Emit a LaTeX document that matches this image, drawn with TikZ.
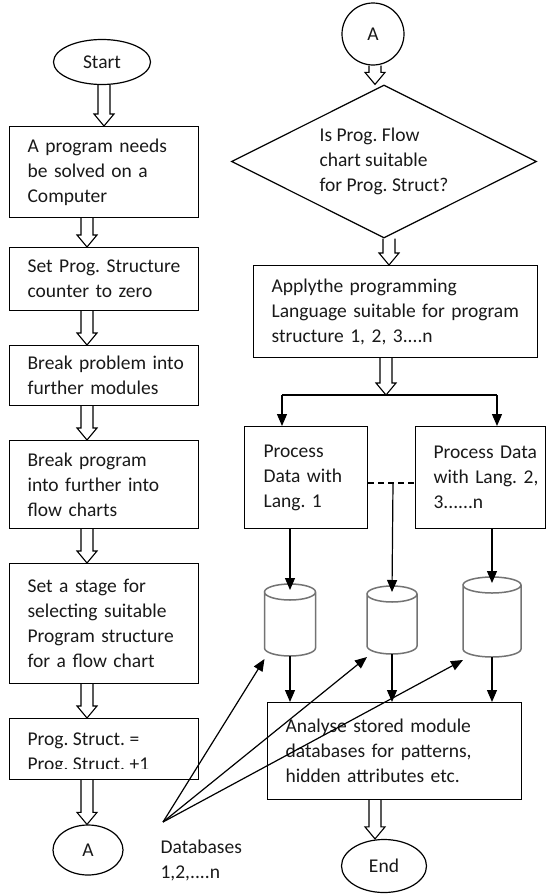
\documentclass[tikz,border=0pt]{standalone}
\usepackage{fontspec}
\setmainfont{Carlito}
\usetikzlibrary{shapes.geometric,arrows.meta,calc}
\frenchspacing
\newcommand{\harrow}[3]{\path[harr] let \p1=(#2), \p2=(#3), \p3=(#1,0) in (\x3-6pt,\y1) -- (\x3-6pt,\y2+12pt) -- (\x3-10pt,\y2+12pt) -- (\x3,\y2) -- (\x3+10pt,\y2+12pt) -- (\x3+6pt,\y2+12pt) -- (\x3+6pt,\y1);}
\newcommand{\drawcan}[1]{\path[candraw] let \p1=(#1.north west), \p2=(#1.south east), \n1={(\x2-\x1)/2} in (\x1,\y1-8pt) -- (\x1,\y2+8pt) arc[start angle=180, end angle=360, x radius=\n1, y radius=8pt] -- (\x2,\y1-8pt) arc[start angle=0, end angle=360, x radius=\n1, y radius=8pt];}
\begin{document}
\begin{tikzpicture}[x=1pt,y=-1pt,line width=1.2pt,
  every node/.style={font=\fontsize{19.5}{25}\selectfont\frenchspacing, text=black!90},
  procbox/.style={draw, text width=#1, align=left, inner xsep=18pt, inner ysep=0pt, anchor=north west},
  oval/.style={ellipse, draw, inner sep=0pt},
  can/.style={inner sep=0pt, outer sep=0pt},
  candraw/.style={draw=black!55, fill=white, line width=1.5pt},
  tip/.style={-{Triangle[length=12pt,width=10pt]}},
  harr/.style={draw, line width=1.1pt, line join=miter}
]
\useasboundingbox (0,0) rectangle (550,894);
% left column
\node[oval, minimum width=97, minimum height=45] (start) at (102,62) {Start};
\node[procbox=153pt, minimum height=91] (b1) at (9,126) {\mbox{A program needs}\\\mbox{be solved on a}\\Computer};
\node[procbox=153pt, minimum height=63] (b2) at (9,247) {\mbox{Set Prog. Structure}\\\mbox{counter to zero}};
\node[procbox=153pt, minimum height=60] (b3) at (9,345) {\mbox{Break problem into}\\\mbox{further modules}};
\node[procbox=153pt, minimum height=88] (b4) at (9,440) {\mbox{Break program}\\\mbox{into further into}\\\mbox{flow charts}};
\node[procbox=153pt, minimum height=120] (b5) at (9,563) {\mbox{Set a stage for}\\\mbox{selecting suitable}\\\mbox{Program structure}\\\mbox{for a flow chart}};
\node[procbox=153pt, minimum height=61] (b6) at (9,718) {};
\begin{scope}
\clip (b6.north west) rectangle ([yshift=12pt]b6.south east);
\node[anchor=north west, align=left, inner sep=0pt] (b6t) at (27,732) {Prog. Struct. =\\Prog. Struct. +1};
\end{scope}
\node[oval, minimum width=70, minimum height=50] (a1) at (88,850) {A};
\node[anchor=west, align=left, inner sep=0pt] (dbl) at (160,860) {Databases\\1,2,....n};
\coordinate (db) at (163,822);
% right column
\node[circle, draw, minimum size=62, inner sep=0pt] (a2) at (373,34) {A};
\node[diamond, draw, aspect=2, minimum width=305, minimum height=153, inner sep=0pt, align=left] (dec) at (384,161.5) {Is Prog. Flow\\chart suitable\\for Prog. Struct?};
\node[procbox=248pt, minimum height=92] (ap) at (253,265) {\mbox{Applythe programming}\\\mbox{Language suitable for program}\\\mbox{structure 1, 2, 3....n}};
\coordinate (jM) at (386,395);
\coordinate (jL) at (282,395);
\coordinate (jR) at (497,395);
\node[procbox=85pt, inner xsep=19pt, minimum height=102] (pL) at (244,426) {\mbox{Process}\\\mbox{Data with}\\\mbox{Lang. 1}};
\node[procbox=94pt, minimum height=102] (pR) at (415,426) {\mbox{Process Data}\\\mbox{with Lang. 2,}\\3......n};
\coordinate (dm) at (393,483);
\node[can, minimum width=51, minimum height=72] (c1) at (290,620) {};
\node[can, minimum width=50, minimum height=68] (c2) at (392,620) {};
\node[can, minimum width=58, minimum height=80] (c3) at (492,617) {};
\drawcan{c1}
\drawcan{c2}
\drawcan{c3}
\node[procbox=218pt, minimum height=97] (an) at (267,702) {\mbox{Analyse stored module}\\\mbox{databases for patterns,}\\\mbox{hidden attributes etc.}};
\node[oval, minimum width=85, minimum height=53] (end) at (384,866) {End};
% connectors
\harrow{104}{start.south}{b1.north}
\harrow{87}{b1.south}{b2.north}
\harrow{87}{b2.south}{b3.north}
\harrow{87}{b3.south}{b4.north}
\harrow{87}{b4.south}{b5.north}
\harrow{87}{b5.south}{b6.north}
\harrow{87}{b6.south}{a1.north}
\harrow{375}{a2.south}{dec.north}
\harrow{389}{dec.south}{ap.north}
\harrow{386}{ap.south}{jM}
\draw (jL) -- (jR);
\draw[tip] (jL) -- (jL |- pL.north);
\draw[tip] (jR) -- (jR |- pR.north);
\draw[dash pattern=on 6pt off 4pt] (pL.east |- dm) -- (pR.west |- dm);
\draw[tip] (dm) -- ([yshift=-6pt]c2.north);
\draw[tip] (c1.north |- pL.south) -- ([yshift=-6pt]c1.north);
\draw[tip] (c3.north |- pR.south) -- ([yshift=-6pt]c3.north);
\draw[tip] (c1.south) -- (c1.south |- an.north);
\draw[tip] (c2.south) -- (c2.south |- an.north);
\draw[tip] (c3.south) -- (c3.south |- an.north);
\draw[tip] (db) -- ([yshift=-3pt]c1.south west);
\draw[tip] (db) -- ([yshift=-3pt]c2.south west);
\draw[tip] (db) -- ([yshift=-3pt]c3.south west);
\harrow{375}{an.south}{end.north}
\end{tikzpicture}
\end{document}
